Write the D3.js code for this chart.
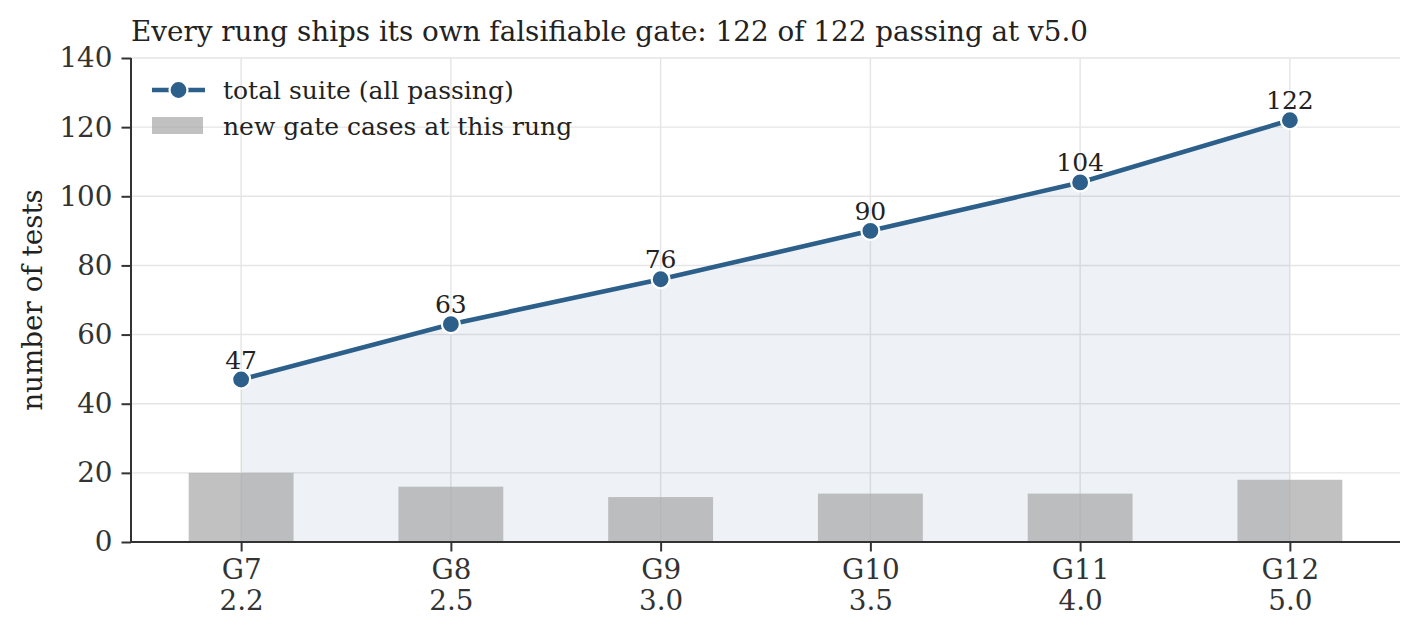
<!DOCTYPE html>
<html>
<head>
<meta charset="utf-8">
<script src="https://cdn.jsdelivr.net/npm/d3@7"></script>
<style>
  body { margin: 0; background: #fff; }
  svg, svg text { font-family: "DejaVu Serif", serif; }
  .axis text { font-size: 27.8px; fill: #333; }
  .axis path, .axis line { stroke: #333; stroke-width: 2; }
</style>
</head>
<body>
<svg width="1420" height="640"></svg>
<script>
// data
var gates = ['G7', 'G8', 'G9', 'G10', 'G11', 'G12'];
var versions = ['2.2', '2.5', '3.0', '3.5', '4.0', '5.0'];
var totalSuite = [47, 63, 76, 90, 104, 122];
var newCases = [20, 16, 13, 14, 14, 18];
var yTicks = [0, 20, 40, 60, 80, 100, 120, 140];

var svg = d3.select('svg');
var padding = {t: 58, r: 20, b: 98, l: 131};
var width = 1400 - padding.l;
var height = 542 - padding.t;
var lineColor = '#2c5f8a';

var xScale = d3.scaleLinear().domain([-0.525, 5.525]).range([0, width]);
var yScale = d3.scaleLinear().domain([0, 140]).range([height, 0]);
var barW = xScale(0.5) - xScale(0);

var chartG = svg.append('g')
    .attr('transform', 'translate(' + [padding.l, padding.t] + ')');

// grid
chartG.selectAll('.hgrid')
    .data(yTicks)
    .enter().append('line')
    .attr('x1', 0).attr('x2', width)
    .attr('y1', function(d) { return yScale(d); })
    .attr('y2', function(d) { return yScale(d); })
    .style('stroke', '#e5e5e5').style('stroke-width', 1.4);
chartG.selectAll('.vgrid')
    .data(gates)
    .enter().append('line')
    .attr('x1', function(d, i) { return xScale(i); })
    .attr('x2', function(d, i) { return xScale(i); })
    .attr('y1', 0).attr('y2', height)
    .style('stroke', '#e5e5e5').style('stroke-width', 1.4);

// shaded area under the total line
var area = d3.area()
    .x(function(d, i) { return xScale(i); })
    .y0(yScale(0))
    .y1(function(d) { return yScale(d); });
chartG.append('path')
    .datum(totalSuite)
    .attr('d', area)
    .style('fill', lineColor)
    .style('fill-opacity', 0.08);

// new cases bars
chartG.selectAll('.bar')
    .data(newCases)
    .enter().append('rect')
    .attr('class', 'bar')
    .attr('x', function(d, i) { return xScale(i) - barW / 2; })
    .attr('width', barW)
    .attr('y', function(d) { return yScale(d); })
    .attr('height', function(d) { return yScale(0) - yScale(d); })
    .style('fill', '#a6a6a6')
    .style('fill-opacity', 0.7);

// total line + markers
var line = d3.line()
    .x(function(d, i) { return xScale(i); })
    .y(function(d) { return yScale(d); });
chartG.append('path')
    .datum(totalSuite)
    .attr('d', line)
    .style('fill', 'none')
    .style('stroke', lineColor)
    .style('stroke-width', 4.6);
chartG.selectAll('.dot')
    .data(totalSuite)
    .enter().append('circle')
    .attr('cx', function(d, i) { return xScale(i); })
    .attr('cy', function(d) { return yScale(d); })
    .attr('r', 9)
    .style('fill', lineColor)
    .style('stroke', '#fff')
    .style('stroke-width', 2.2);
chartG.selectAll('.valLabel')
    .data(totalSuite)
    .enter().append('text')
    .attr('x', function(d, i) { return xScale(i); })
    .attr('y', function(d) { return yScale(d) - 11; })
    .attr('text-anchor', 'middle')
    .style('font-size', '25px')
    .style('fill', '#222')
    .text(function(d) { return d; });

// axes
var yAxis = d3.axisLeft(yScale).tickValues(yTicks).tickSize(9.5).tickPadding(9);
chartG.append('g').attr('class', 'y axis').attr('font-family', null).call(yAxis)
    .select('.domain').attr('d', 'M0,0V' + height);

var xAxis = d3.axisBottom(xScale).tickValues(d3.range(gates.length)).tickSize(9.5).tickPadding(8)
    .tickFormat(function(d) { return gates[d]; });
var xG = chartG.append('g').attr('class', 'x axis')
    .attr('transform', 'translate(' + [0, height] + ')')
    .call(xAxis);
xG.select('.domain').attr('d', 'M0,0H' + width);
xG.selectAll('.tick text').each(function(d) {
    var t = d3.select(this);
    t.text(null);
    t.append('tspan').attr('x', 0).attr('dy', '0.71em').text(gates[d]);
    t.append('tspan').attr('x', 0).attr('dy', '1.12em').text(versions[d]);
});
svg.selectAll('.axis').attr('font-family', null).attr('font-size', null);

// y label
svg.append('text')
    .attr('transform', 'translate(' + [42, padding.t + height / 2] + ') rotate(-90)')
    .attr('text-anchor', 'middle')
    .style('font-size', '27.8px')
    .style('fill', '#222')
    .text('number of tests');

// title
svg.append('text')
    .attr('x', padding.l)
    .attr('y', 41)
    .style('font-size', '27.8px')
    .style('fill', '#222')
    .text('Every rung ships its own falsifiable gate: 122 of 122 passing at v5.0');

// legend
var legendG = svg.append('g').attr('transform', 'translate(' + [152, 90] + ')');
legendG.append('line')
    .attr('x1', 0).attr('x2', 53).attr('y1', 0).attr('y2', 0)
    .style('stroke', lineColor).style('stroke-width', 4.6);
legendG.append('circle')
    .attr('cx', 26.5).attr('cy', 0).attr('r', 9)
    .style('fill', lineColor).style('stroke', '#fff').style('stroke-width', 2.2);
legendG.append('rect')
    .attr('x', 0).attr('y', 27).attr('width', 51).attr('height', 17)
    .style('fill', '#a6a6a6').style('fill-opacity', 0.7);
legendG.selectAll('.legText')
    .data(['total suite (all passing)', 'new gate cases at this rung'])
    .enter().append('text')
    .attr('x', 71)
    .attr('y', function(d, i) { return i * 36; })
    .attr('dy', '0.35em')
    .style('font-size', '25px')
    .style('fill', '#222')
    .text(function(d) { return d; });
</script>
</body>
</html>
